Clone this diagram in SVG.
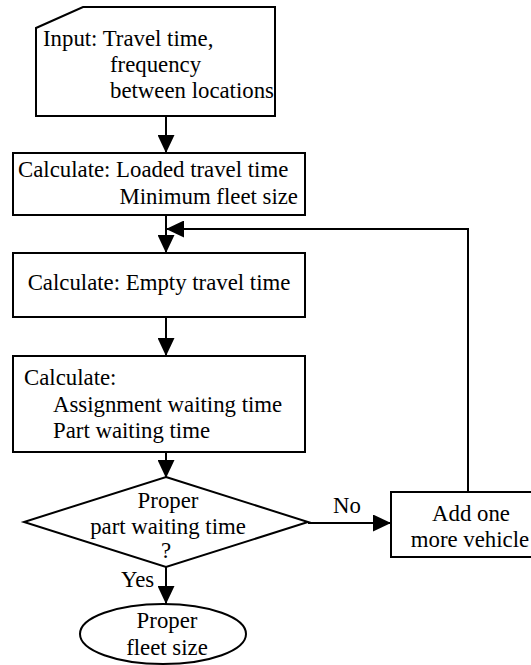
<svg xmlns="http://www.w3.org/2000/svg" width="531" height="665" viewBox="0 0 531 665">
<defs>
<style>
.s{fill:#fff;stroke:#000;stroke-width:2}
.c{fill:none;stroke:#000;stroke-width:2}
text{font-family:"Liberation Serif","Times New Roman",serif;font-size:22.8px;fill:#000}
.m{text-anchor:middle}
.e{text-anchor:end}
</style>
<marker id="a" markerUnits="userSpaceOnUse" markerWidth="18" markerHeight="17" refX="18" refY="8.5" orient="auto">
<path d="M0,0 L18,8.5 L0,17 z" fill="#000"/>
</marker>
</defs>
<rect width="531" height="665" fill="#fff"/>
<g id="connectors">
<line class="c" x1="166" y1="116" x2="166" y2="153" marker-end="url(#a)"/>
<line class="c" x1="166" y1="215" x2="166" y2="253" marker-end="url(#a)"/>
<polyline class="c" points="468,492 468,229 166,229" marker-end="url(#a)"/>
<line class="c" x1="166" y1="317" x2="166" y2="356" marker-end="url(#a)"/>
<line class="c" x1="166" y1="452" x2="166" y2="478" marker-end="url(#a)"/>
<line class="c" x1="308" y1="523" x2="391" y2="523" marker-end="url(#a)"/>
<line class="c" x1="166" y1="567" x2="166" y2="604" marker-end="url(#a)"/>
<text x="333" y="513">No</text>
<text x="121" y="587">Yes</text>
</g>
<g id="input">
<path class="s" d="M83,7 L275,7 L275,116 L36,116 L36,28 Z"/>
<text x="43" y="46">Input: Travel time,</text>
<text x="110" y="72">frequency</text>
<text x="110" y="98">between locations</text>
</g>
<g id="calc-loaded">
<rect class="s" x="13" y="153" width="292" height="62"/>
<text x="18" y="177">Calculate: Loaded travel time</text>
<text class="e" x="298" y="204">Minimum fleet size</text>
</g>
<g id="calc-empty">
<rect class="s" x="13" y="253" width="292" height="64"/>
<text class="m" x="159" y="290">Calculate: Empty travel time</text>
</g>
<g id="calc-waiting">
<rect class="s" x="13" y="356" width="292" height="96"/>
<text x="24" y="385">Calculate:</text>
<text x="53" y="412">Assignment waiting time</text>
<text x="53" y="438">Part waiting time</text>
</g>
<g id="decision">
<polygon class="s" points="166,477 308,522 166,567 24,522"/>
<text class="m" x="168" y="508">Proper</text>
<text class="m" x="168" y="534">part waiting time</text>
<text class="m" x="166" y="558">?</text>
</g>
<g id="add-vehicle">
<rect class="s" x="391" y="492" width="150" height="65"/>
<text class="m" x="471" y="521">Add one</text>
<text class="m" x="470" y="547">more vehicle</text>
</g>
<g id="result">
<ellipse class="s" cx="163" cy="634" rx="83" ry="30"/>
<text class="m" x="167" y="628">Proper</text>
<text class="m" x="167" y="655">fleet size</text>
</g>
</svg>
